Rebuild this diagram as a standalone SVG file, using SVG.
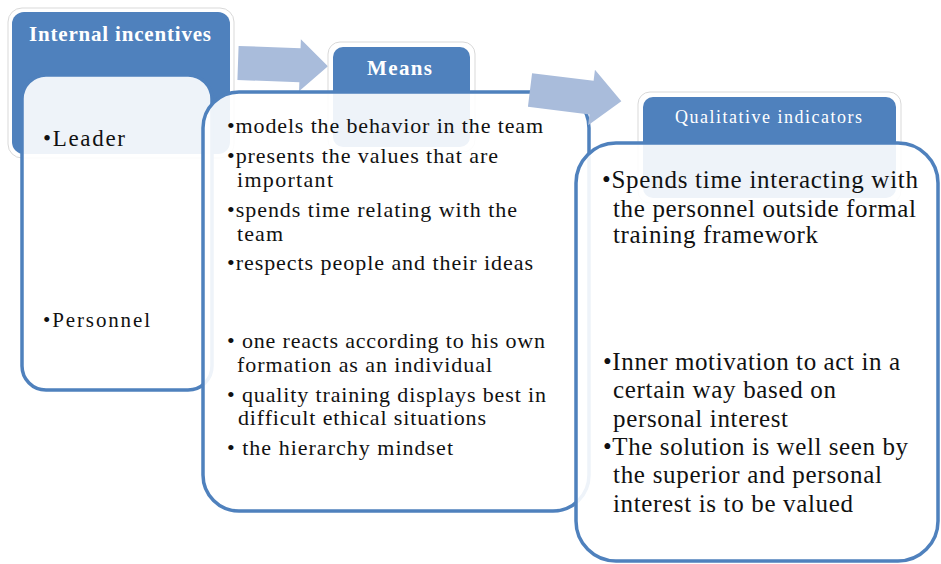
<svg xmlns="http://www.w3.org/2000/svg" width="941" height="564" viewBox="0 0 941 564">
<style>
.hdrOuter{fill:#ffffff;stroke:#d9d9d9;stroke-width:1}
.hdr{fill:#4f81bd}
.panel{fill:#ffffff;fill-opacity:0.9;stroke:#4f81bd;stroke-width:3.5}
.arrow{fill:#a9bcdb}
.ht{fill:#ffffff}
.bt{fill:#111111}
</style>
<rect width="941" height="564" fill="#ffffff"/>
<g id="internal-incentives" font-family="Liberation Serif, Times New Roman, serif">
  <rect class="hdrOuter" x="8" y="8" width="226" height="150" rx="14"/>
  <rect class="hdr" x="12" y="12" width="218" height="142" rx="12"/>
  <text class="ht" x="29" y="41" font-size="21" font-weight="bold" textLength="182" lengthAdjust="spacing">Internal incentives</text>
  <rect class="panel" x="22" y="75" width="190" height="315" rx="24"/>
  <text class="bt" x="43" y="146" font-size="23" textLength="82" lengthAdjust="spacing">•Leader</text>
  <text class="bt" x="43" y="327" font-size="21" textLength="107" lengthAdjust="spacing">•Personnel</text>
</g>
<g id="connectors">
  <polygon id="arrow1" class="arrow" transform="translate(238,63) rotate(2)" points="0,-17 62,-17 62,-26 90,0 62,26 62,17 0,17"/>
</g>
<g id="means" font-family="Liberation Serif, Times New Roman, serif" font-size="22">
  <rect class="hdrOuter" x="328" y="42" width="147" height="110" rx="12"/>
  <rect class="hdr" x="333" y="47" width="137" height="100" rx="10"/>
  <text class="ht" x="367" y="75" font-size="21" font-weight="bold" textLength="65" lengthAdjust="spacing">Means</text>
  <rect class="panel" x="203" y="92" width="386" height="419" rx="36"/>
  <text class="bt" x="227" y="133" textLength="316" lengthAdjust="spacing">•models the behavior in the team</text>
  <text class="bt" x="227" y="163" textLength="271" lengthAdjust="spacing">•presents the values that are</text>
  <text class="bt" x="237" y="187" textLength="96" lengthAdjust="spacing">important</text>
  <text class="bt" x="227" y="217" textLength="290" lengthAdjust="spacing">•spends time relating with the</text>
  <text class="bt" x="237" y="241" textLength="46" lengthAdjust="spacing">team</text>
  <text class="bt" x="227" y="270" textLength="306" lengthAdjust="spacing">•respects people and their ideas</text>
  <text class="bt" x="227" y="348" textLength="318" lengthAdjust="spacing">• one reacts according to his own</text>
  <text class="bt" x="237" y="372" textLength="255" lengthAdjust="spacing">formation as an individual</text>
  <text class="bt" x="227" y="402" textLength="319" lengthAdjust="spacing">• quality training displays best in</text>
  <text class="bt" x="238" y="425" textLength="248" lengthAdjust="spacing">difficult ethical situations</text>
  <text class="bt" x="227" y="455" textLength="226" lengthAdjust="spacing">• the hierarchy mindset</text>
</g>
<g id="connectors-2">
  <polygon id="arrow2" class="arrow" transform="translate(530,90) rotate(7)" points="0,-17 62,-17 62,-28 92,0 62,28 62,17 0,17"/>
</g>
<g id="qualitative-indicators" font-family="Liberation Serif, Times New Roman, serif" font-size="25">
  <rect class="hdrOuter" x="638" y="92" width="263" height="111" rx="12"/>
  <rect class="hdr" x="643" y="97" width="253" height="101" rx="10"/>
  <text class="ht" x="675" y="123" font-size="18" textLength="187" lengthAdjust="spacing">Qualitative indicators</text>
  <rect class="panel" x="576" y="143" width="362" height="418" rx="40"/>
  <text class="bt" x="602" y="188" textLength="316" lengthAdjust="spacing">•Spends time interacting with</text>
  <text class="bt" x="613" y="217" textLength="303" lengthAdjust="spacing">the personnel outside formal</text>
  <text class="bt" x="613" y="243" textLength="205" lengthAdjust="spacing">training framework</text>
  <text class="bt" x="603" y="370" textLength="297" lengthAdjust="spacing">•Inner motivation to act in a</text>
  <text class="bt" x="613" y="398" textLength="223" lengthAdjust="spacing">certain way based on</text>
  <text class="bt" x="613" y="427" textLength="175" lengthAdjust="spacing">personal interest</text>
  <text class="bt" x="603" y="455" textLength="305" lengthAdjust="spacing">•The solution is well seen by</text>
  <text class="bt" x="613" y="483" textLength="269" lengthAdjust="spacing">the superior and personal</text>
  <text class="bt" x="613" y="512" textLength="240" lengthAdjust="spacing">interest is to be valued</text>
</g>
</svg>
